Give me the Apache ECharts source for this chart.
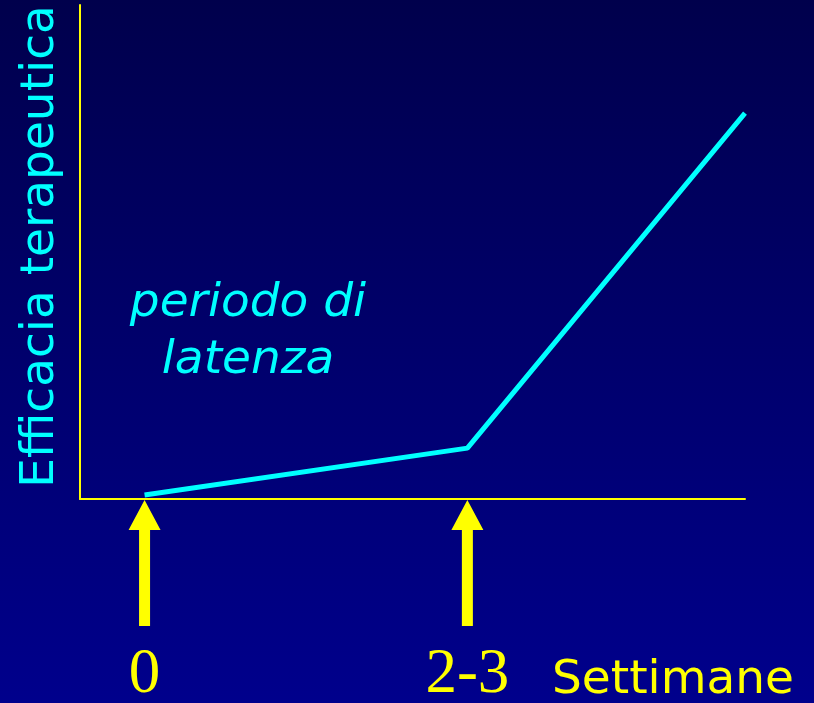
<!DOCTYPE html>
<html>
<head>
<meta charset="utf-8">
<script src="https://cdn.jsdelivr.net/npm/echarts@6/dist/echarts.min.js"></script>
<style>
  html, body { margin: 0; padding: 0; }
  #chart { width: 814px; height: 703px; }
</style>
</head>
<body>
<div id="chart"></div>
<script>
// dati: settimane e efficacia (scala 0-100)
const weeks = [0, 2.5, 4.65]
const efficacy = [0.8, 10.3, 78.1]
// frecce sotto l'asse x
const arrowWeeks = [0, 2.5]
const tickValues = [0, 2.5]
const tickLabels = ['0', '2-3']

const YELLOW = '#ffff00'
const CYAN = '#00ffff'

const chart = echarts.init(document.getElementById('chart'))

const option = {
  animation: false,
  backgroundColor: new echarts.graphic.LinearGradient(0, 0, 0, 1, [
    { offset: 0, color: '#00004c' },
    { offset: 1, color: '#00008c' },
  ]),
  grid: { left: 80, right: 69, top: 5, bottom: 204, outerBoundsMode: 'none' },
  xAxis: {
    type: 'value',
    min: -0.5,
    max: 4.65,
    splitLine: { show: false },
    axisTick: { show: false },
    axisLine: { onZero: false, lineStyle: { color: YELLOW, width: 2 } },
    axisLabel: {
      customValues: tickValues,
      formatter: (v) => tickLabels[tickValues.indexOf(v)],
      color: YELLOW,
      fontFamily: 'Liberation Serif',
      fontSize: 63,
      verticalAlign: 'middle',
      margin: 176,
    },
  },
  yAxis: {
    type: 'value',
    min: 0,
    max: 100,
    splitLine: { show: false },
    axisTick: { show: false },
    axisLabel: { show: false },
    axisLine: { show: true, onZero: false, lineStyle: { color: YELLOW, width: 2 } },
    name: 'Efficacia terapeutica',
    nameLocation: 'middle',
    nameRotate: 90,
    nameGap: 16,
    nameTextStyle: {
      color: CYAN,
      fontFamily: 'DejaVu Sans',
      fontSize: 47,
      padding: [0, 0, 0, 11],
    },
  },
  graphic: [
    {
      type: 'text',
      x: 248,
      y: 332,
      style: {
        text: 'periodo di\nlatenza',
        fill: CYAN,
        font: 'italic 47px "DejaVu Sans"',
        lineHeight: 57,
        align: 'center',
        verticalAlign: 'middle',
      },
    },
    {
      type: 'text',
      x: 552,
      y: 681,
      style: {
        text: 'Settimane',
        fill: YELLOW,
        font: '47px "DejaVu Sans"',
        align: 'left',
        verticalAlign: 'middle',
      },
    },
  ],
  series: [
    {
      type: 'line',
      data: weeks.map((w, i) => [w, efficacy[i]]),
      symbol: 'none',
      lineStyle: { color: CYAN, width: 5 },
      z: 3,
    },
    {
      type: 'custom',
      clip: false,
      data: arrowWeeks.map((w) => [w, 0]),
      renderItem: (params, api) => {
        const tip = api.coord([api.value(0), api.value(1)])
        const x = tip[0]
        const y = tip[1] + 1
        const headH = 30
        const headW = 16
        const shaftW = 5.5
        const len = 126
        return {
          type: 'polygon',
          shape: {
            points: [
              [x, y],
              [x + headW, y + headH],
              [x + shaftW, y + headH],
              [x + shaftW, y + len],
              [x - shaftW, y + len],
              [x - shaftW, y + headH],
              [x - headW, y + headH],
            ],
          },
          style: { fill: YELLOW },
        }
      },
      z: 4,
    },
  ],
}

chart.setOption(option)
</script>
</body>
</html>
